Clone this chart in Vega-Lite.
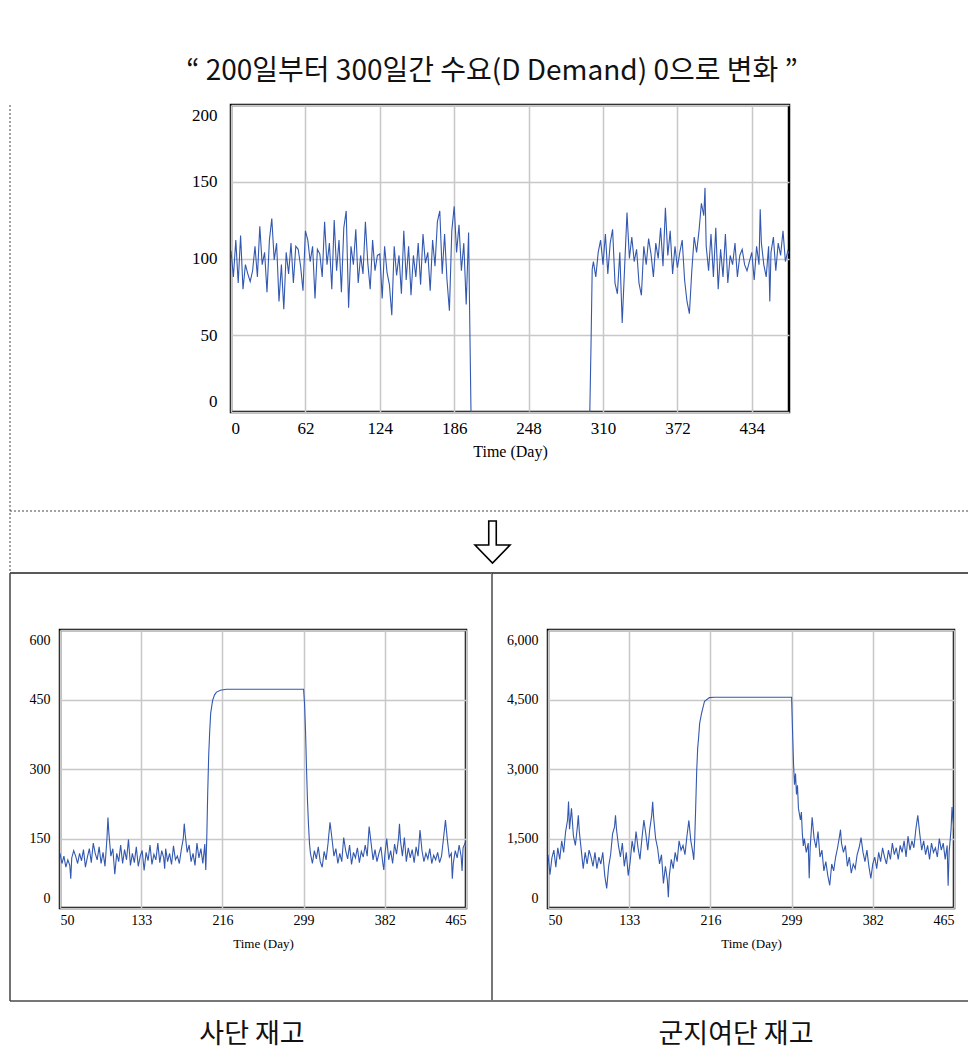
{
"$schema": "https://vega.github.io/schema/vega-lite/v6.json",
"background": "white",
"padding": {"left": 7, "top": 58, "right": 0, "bottom": 10},
"title": {"text": "“ 200일부터 300일간 수요(D Demand) 0으로 변화 ”", "font": "Noto Sans CJK KR", "fontSize": 28, "fontWeight": "normal", "color": "#111111", "offset": 17, "dx": 2, "anchor": "middle"},
"columns": 1,
"align": "none",
"spacing": -5,
"config": {
  "view": {"stroke": "#000000", "strokeWidth": 2.5},
  "axis": {"grid": true, "gridColor": "#c8c8c8", "gridWidth": 1.5, "domain": false, "ticks": false, "labelFont": "Liberation Serif", "titleFont": "Liberation Serif", "labelColor": "#000000", "titleColor": "#000000", "titleFontWeight": "normal"},
  "line": {"color": "#3358b0", "strokeWidth": 1.1}
},
"datasets": {
"dem": [
{"d":0,"v":105},{"d":2,"v":88},{"d":4,"v":112},{"d":6,"v":84},{"d":8,"v":115},{"d":10,"v":80},{"d":12,"v":96},{"d":14,"v":90},{"d":16,"v":85},{"d":18,"v":92},
{"d":20,"v":108},{"d":22,"v":88},{"d":24,"v":121},{"d":26,"v":96},{"d":28,"v":104},{"d":30,"v":78},{"d":32,"v":112},{"d":34,"v":126},{"d":36,"v":99},{"d":38,"v":110},
{"d":40,"v":72},{"d":42,"v":96},{"d":44,"v":67},{"d":46,"v":104},{"d":48,"v":90},{"d":50,"v":110},{"d":52,"v":84},{"d":54,"v":108},{"d":56,"v":106},{"d":58,"v":95},
{"d":60,"v":79},{"d":62,"v":118},{"d":64,"v":112},{"d":66,"v":98},{"d":68,"v":108},{"d":70,"v":74},{"d":72,"v":106},{"d":74,"v":103},{"d":76,"v":88},{"d":78,"v":124},
{"d":80,"v":96},{"d":82,"v":110},{"d":84,"v":80},{"d":86,"v":125},{"d":88,"v":92},{"d":90,"v":112},{"d":92,"v":78},{"d":94,"v":120},{"d":96,"v":131},{"d":98,"v":68},
{"d":100,"v":108},{"d":102,"v":96},{"d":104,"v":119},{"d":106,"v":84},{"d":108,"v":102},{"d":110,"v":90},{"d":112,"v":124},{"d":114,"v":97},{"d":116,"v":80},{"d":118,"v":112},
{"d":120,"v":92},{"d":122,"v":102},{"d":124,"v":103},{"d":126,"v":74},{"d":128,"v":108},{"d":130,"v":91},{"d":132,"v":83},{"d":134,"v":63},{"d":136,"v":108},{"d":138,"v":89},
{"d":140,"v":102},{"d":142,"v":77},{"d":144,"v":118},{"d":146,"v":86},{"d":148,"v":108},{"d":150,"v":76},{"d":152,"v":102},{"d":154,"v":88},{"d":156,"v":110},{"d":158,"v":83},
{"d":160,"v":116},{"d":162,"v":97},{"d":164,"v":104},{"d":166,"v":79},{"d":168,"v":112},{"d":170,"v":95},{"d":172,"v":124},{"d":174,"v":131},{"d":176,"v":90},{"d":178,"v":116},
{"d":180,"v":86},{"d":182,"v":66},{"d":184,"v":118},{"d":186,"v":134},{"d":188,"v":104},{"d":190,"v":122},{"d":192,"v":92},{"d":194,"v":110},{"d":196,"v":70},{"d":198,"v":117},
{"d":199,"v":57},{"d":200,"v":0},{"d":299,"v":0},{"d":300,"v":43},{"d":301,"v":93},
{"d":302,"v":98},{"d":304,"v":88},{"d":306,"v":104},{"d":308,"v":112},{"d":310,"v":96},{"d":312,"v":116},{"d":314,"v":90},{"d":316,"v":110},{"d":318,"v":119},{"d":320,"v":84},
{"d":322,"v":77},{"d":324,"v":104},{"d":326,"v":58},{"d":328,"v":94},{"d":330,"v":130},{"d":332,"v":100},{"d":334,"v":114},{"d":336,"v":98},{"d":338,"v":106},{"d":340,"v":84},
{"d":342,"v":76},{"d":344,"v":108},{"d":346,"v":96},{"d":348,"v":113},{"d":350,"v":103},{"d":352,"v":88},{"d":354,"v":110},{"d":356,"v":100},{"d":358,"v":120},{"d":360,"v":95},
{"d":362,"v":133},{"d":364,"v":102},{"d":366,"v":118},{"d":368,"v":90},{"d":370,"v":108},{"d":372,"v":94},{"d":374,"v":104},{"d":376,"v":112},{"d":378,"v":86},{"d":380,"v":72},
{"d":382,"v":64},{"d":384,"v":92},{"d":386,"v":114},{"d":388,"v":104},{"d":390,"v":118},{"d":392,"v":136},{"d":394,"v":128},{"d":395,"v":146},{"d":396,"v":108},{"d":398,"v":92},
{"d":400,"v":116},{"d":402,"v":88},{"d":404,"v":120},{"d":406,"v":80},{"d":408,"v":106},{"d":410,"v":88},{"d":412,"v":116},{"d":414,"v":84},{"d":416,"v":102},{"d":418,"v":96},
{"d":420,"v":110},{"d":422,"v":88},{"d":424,"v":102},{"d":426,"v":106},{"d":428,"v":96},{"d":430,"v":92},{"d":432,"v":98},{"d":434,"v":104},{"d":436,"v":86},{"d":438,"v":108},
{"d":440,"v":96},{"d":441,"v":132},{"d":442,"v":110},{"d":444,"v":96},{"d":446,"v":88},{"d":448,"v":108},{"d":449,"v":72},{"d":450,"v":104},{"d":452,"v":114},{"d":454,"v":92},
{"d":456,"v":110},{"d":458,"v":102},{"d":460,"v":118},{"d":462,"v":98},{"d":464,"v":105},{"d":465,"v":103}
],
"div": [
{"d":50,"v":118},{"d":52,"v":96},{"d":54,"v":112},{"d":56,"v":88},{"d":58,"v":104},{"d":60,"v":92},{"d":61,"v":63},{"d":62,"v":108},{"d":64,"v":124},{"d":66,"v":112},
{"d":68,"v":96},{"d":70,"v":118},{"d":72,"v":102},{"d":74,"v":126},{"d":76,"v":88},{"d":78,"v":110},{"d":80,"v":128},{"d":82,"v":98},{"d":84,"v":140},{"d":86,"v":118},
{"d":88,"v":104},{"d":90,"v":132},{"d":92,"v":96},{"d":94,"v":120},{"d":96,"v":90},{"d":98,"v":150},{"d":99,"v":195},{"d":100,"v":160},{"d":102,"v":112},{"d":104,"v":128},
{"d":106,"v":73},{"d":108,"v":118},{"d":110,"v":100},{"d":112,"v":136},{"d":114,"v":96},{"d":116,"v":126},{"d":118,"v":104},{"d":120,"v":148},{"d":122,"v":92},{"d":124,"v":118},
{"d":126,"v":98},{"d":128,"v":132},{"d":130,"v":90},{"d":132,"v":112},{"d":134,"v":124},{"d":136,"v":81},{"d":138,"v":120},{"d":140,"v":102},{"d":142,"v":136},{"d":144,"v":94},
{"d":146,"v":116},{"d":148,"v":104},{"d":150,"v":140},{"d":152,"v":98},{"d":154,"v":124},{"d":156,"v":108},{"d":157,"v":85},{"d":158,"v":128},{"d":160,"v":100},{"d":162,"v":118},
{"d":164,"v":94},{"d":166,"v":134},{"d":168,"v":104},{"d":170,"v":112},{"d":172,"v":96},{"d":174,"v":126},{"d":176,"v":150},{"d":177,"v":182},{"d":178,"v":158},{"d":180,"v":120},
{"d":182,"v":136},{"d":184,"v":100},{"d":186,"v":118},{"d":188,"v":92},{"d":190,"v":140},{"d":192,"v":108},{"d":194,"v":128},{"d":196,"v":96},{"d":198,"v":138},{"d":199,"v":82},
{"d":200,"v":148},{"d":201,"v":250},{"d":202,"v":330},{"d":203,"v":380},{"d":204,"v":420},{"d":206,"v":448},{"d":208,"v":460},{"d":210,"v":466},{"d":214,"v":470},{"d":220,"v":472},
{"d":299,"v":472},{"d":300,"v":440},{"d":301,"v":380},{"d":302,"v":300},{"d":303,"v":230},{"d":304,"v":180},{"d":305,"v":140},{"d":306,"v":118},
{"d":308,"v":96},{"d":310,"v":124},{"d":312,"v":106},{"d":314,"v":132},{"d":316,"v":100},{"d":318,"v":88},{"d":320,"v":122},{"d":322,"v":104},{"d":324,"v":140},{"d":326,"v":185},
{"d":328,"v":150},{"d":330,"v":112},{"d":332,"v":128},{"d":334,"v":96},{"d":336,"v":118},{"d":338,"v":100},{"d":340,"v":152},{"d":342,"v":124},{"d":344,"v":106},{"d":346,"v":136},
{"d":348,"v":94},{"d":350,"v":120},{"d":352,"v":108},{"d":354,"v":130},{"d":356,"v":98},{"d":358,"v":122},{"d":360,"v":110},{"d":362,"v":136},{"d":364,"v":112},{"d":366,"v":176},
{"d":368,"v":140},{"d":370,"v":104},{"d":372,"v":126},{"d":374,"v":100},{"d":376,"v":118},{"d":378,"v":132},{"d":380,"v":96},{"d":381,"v":82},{"d":382,"v":114},{"d":384,"v":150},
{"d":386,"v":104},{"d":388,"v":124},{"d":390,"v":96},{"d":392,"v":138},{"d":394,"v":116},{"d":396,"v":150},{"d":397,"v":182},{"d":398,"v":146},{"d":400,"v":112},{"d":402,"v":152},
{"d":404,"v":100},{"d":406,"v":130},{"d":408,"v":108},{"d":410,"v":126},{"d":412,"v":98},{"d":414,"v":132},{"d":416,"v":112},{"d":418,"v":168},{"d":420,"v":124},{"d":422,"v":100},
{"d":424,"v":118},{"d":426,"v":106},{"d":428,"v":128},{"d":430,"v":96},{"d":432,"v":114},{"d":434,"v":104},{"d":436,"v":120},{"d":438,"v":98},{"d":440,"v":112},{"d":442,"v":150},
{"d":444,"v":190},{"d":446,"v":146},{"d":448,"v":110},{"d":450,"v":118},{"d":451,"v":63},{"d":452,"v":96},{"d":454,"v":124},{"d":456,"v":108},{"d":458,"v":136},{"d":460,"v":112},
{"d":461,"v":80},{"d":462,"v":130},{"d":464,"v":140},{"d":465,"v":132}
],
"bde": [
{"d":50,"v":1150},{"d":52,"v":720},{"d":54,"v":1080},{"d":56,"v":1250},{"d":58,"v":880},{"d":60,"v":1300},{"d":62,"v":1050},{"d":64,"v":1450},{"d":66,"v":1200},{"d":68,"v":1650},
{"d":70,"v":1900},{"d":71,"v":2300},{"d":72,"v":1700},{"d":74,"v":2150},{"d":76,"v":1550},{"d":78,"v":1350},{"d":80,"v":1750},{"d":81,"v":2000},{"d":82,"v":1650},{"d":84,"v":1250},
{"d":86,"v":850},{"d":88,"v":1200},{"d":90,"v":950},{"d":92,"v":1250},{"d":94,"v":1100},{"d":96,"v":900},{"d":98,"v":1200},{"d":100,"v":850},{"d":102,"v":1100},{"d":104,"v":950},
{"d":106,"v":1200},{"d":108,"v":700},{"d":110,"v":420},{"d":112,"v":900},{"d":114,"v":1150},{"d":116,"v":1600},{"d":118,"v":1750},{"d":119,"v":2000},{"d":120,"v":1700},{"d":122,"v":1350},
{"d":124,"v":1100},{"d":126,"v":1400},{"d":128,"v":900},{"d":130,"v":1200},{"d":132,"v":700},{"d":134,"v":1000},{"d":136,"v":1450},{"d":138,"v":1200},{"d":140,"v":1650},{"d":142,"v":1300},
{"d":144,"v":1050},{"d":146,"v":1500},{"d":148,"v":1900},{"d":150,"v":1600},{"d":152,"v":1250},{"d":154,"v":1700},{"d":156,"v":2000},{"d":157,"v":2290},{"d":158,"v":1950},{"d":160,"v":1500},
{"d":162,"v":1300},{"d":164,"v":950},{"d":166,"v":1150},{"d":168,"v":530},{"d":170,"v":900},{"d":172,"v":600},{"d":173,"v":235},{"d":174,"v":700},{"d":176,"v":1050},{"d":178,"v":850},
{"d":180,"v":1200},{"d":182,"v":1000},{"d":184,"v":1450},{"d":186,"v":1250},{"d":188,"v":1350},{"d":190,"v":1150},{"d":192,"v":1550},{"d":194,"v":1890},{"d":196,"v":1450},{"d":198,"v":1200},
{"d":199,"v":1040},{"d":200,"v":1500},{"d":201,"v":2200},{"d":202,"v":2960},{"d":203,"v":3450},{"d":204,"v":3690},{"d":205,"v":3985},{"d":207,"v":4205},{"d":210,"v":4463},{"d":215,"v":4540},
{"d":220,"v":4550},{"d":299,"v":4550},{"d":300,"v":3800},{"d":301,"v":3100},{"d":302,"v":2660},{"d":303,"v":2900},{"d":304,"v":2450},{"d":305,"v":2650},{"d":306,"v":2150},{"d":308,"v":1900},
{"d":309,"v":2070},{"d":310,"v":1600},{"d":311,"v":1340},{"d":312,"v":1500},{"d":314,"v":1200},{"d":316,"v":1400},{"d":317,"v":640},{"d":318,"v":1300},{"d":320,"v":1960},{"d":322,"v":1500},
{"d":324,"v":1300},{"d":326,"v":1650},{"d":328,"v":1100},{"d":330,"v":1250},{"d":332,"v":800},{"d":334,"v":1000},{"d":336,"v":700},{"d":338,"v":490},{"d":340,"v":950},{"d":342,"v":800},
{"d":344,"v":1100},{"d":346,"v":1300},{"d":348,"v":1550},{"d":349,"v":1690},{"d":350,"v":1400},{"d":352,"v":1200},{"d":354,"v":1350},{"d":356,"v":900},{"d":358,"v":1100},{"d":360,"v":750},
{"d":362,"v":950},{"d":364,"v":850},{"d":366,"v":1150},{"d":368,"v":1300},{"d":370,"v":1520},{"d":372,"v":1200},{"d":374,"v":1000},{"d":376,"v":1250},{"d":378,"v":900},{"d":380,"v":640},
{"d":382,"v":950},{"d":384,"v":1100},{"d":386,"v":850},{"d":388,"v":1200},{"d":390,"v":1000},{"d":392,"v":1300},{"d":394,"v":1100},{"d":396,"v":950},{"d":398,"v":1250},{"d":400,"v":1050},
{"d":402,"v":1400},{"d":404,"v":1150},{"d":406,"v":1300},{"d":408,"v":1050},{"d":410,"v":1350},{"d":412,"v":1200},{"d":414,"v":1450},{"d":416,"v":1100},{"d":418,"v":1550},{"d":420,"v":1250},
{"d":422,"v":1450},{"d":424,"v":1300},{"d":426,"v":1700},{"d":428,"v":2000},{"d":430,"v":1600},{"d":432,"v":1250},{"d":434,"v":1450},{"d":436,"v":1150},{"d":438,"v":1350},{"d":440,"v":1050},
{"d":442,"v":1400},{"d":444,"v":1200},{"d":446,"v":1300},{"d":448,"v":1100},{"d":450,"v":1500},{"d":452,"v":1250},{"d":454,"v":1400},{"d":456,"v":1050},{"d":458,"v":1350},{"d":459,"v":480},
{"d":460,"v":1200},{"d":462,"v":1700},{"d":463,"v":2180},{"d":464,"v":1900},{"d":465,"v":1700}
]
},
"concat": [
{
  "bounds": "flush",
  "spacing": 0,
  "hconcat": [
    {
      "width": 171, "height": 10,
      "view": {"stroke": null},
      "data": {"values": []},
      "mark": {"type": "point", "opacity": 0}
    },
    {
      "width": 558, "height": 307,
      "layer": [
        {
          "data": {"name": "dem"},
          "mark": {"type": "line", "clip": true},
          "encoding": {
            "x": {"field": "d", "type": "quantitative", "scale": {"domain": [0, 465], "nice": false, "zero": false},
                  "axis": {"values": [0,31,62,93,124,155,186,217,248,279,310,341,372,403,434,465], "labelExpr": "datum.value % 62 === 0 ? datum.label : ''", "title": "Time (Day)", "labelFontSize": 17, "titleFontSize": 16, "labelPadding": 8, "titlePadding": 7}},
            "y": {"field": "v", "type": "quantitative", "scale": {"domain": [0, 200], "nice": false},
                  "axis": {"values": [0,50,100,150,200], "labelFlush": true, "labelFlushOffset": -2, "labelFontSize": 17, "labelPadding": 14, "title": null}}
          }
        },
        {
          "data": {"values": [{}]},
          "mark": {"type": "rule", "color": "#444444", "strokeWidth": 1, "strokeDash": [2, 2]},
          "encoding": {
            "x": {"datum": -184.17, "type": "quantitative", "scale": {"domain": [0, 465], "nice": false, "zero": false}},
            "y": {"datum": 200, "type": "quantitative", "scale": {"domain": [0, 200], "nice": false}},
            "y2": {"datum": -104.89}
          }
        },
        {
          "data": {"values": [{}]},
          "mark": {"type": "rule", "color": "#444444", "strokeWidth": 1, "strokeDash": [2, 2]},
          "encoding": {
            "x": {"datum": -184.17, "type": "quantitative", "scale": {"domain": [0, 465], "nice": false, "zero": false}},
            "x2": {"datum": 615.83},
            "y": {"datum": -64.5, "type": "quantitative", "scale": {"domain": [0, 200], "nice": false}}
          }
        },
        {
          "data": {"values": [{}]},
          "mark": {"type": "point", "shape": "M -0.179 -1 L 0.179 -1 L 0.179 0.143 L 0.833 0.143 L 0 1 L -0.833 0.143 L -0.179 0.143 Z", "size": 1764, "filled": false, "stroke": "#000000", "strokeWidth": 1.6, "opacity": 1, "fill": "#ffffff", "fillOpacity": 1},
          "encoding": {
            "x": {"datum": 217.92, "type": "quantitative", "scale": {"domain": [0, 465], "nice": false, "zero": false}},
            "y": {"datum": -84.69, "type": "quantitative", "scale": {"domain": [0, 200], "nice": false}}
          }
        }
      ]
    }
  ]
},
{
  "bounds": "flush",
  "spacing": 82,
  "hconcat": [
    {
      "width": 406, "height": 278,
      "title": {"text": "사단 재고", "orient": "bottom", "frame": "group", "anchor": "middle", "offset": 20, "dx": -11, "font": "Noto Sans CJK KR", "fontSize": 27, "fontWeight": "normal", "color": "#111111"},
      "layer": [
        {
          "data": {"name": "div"},
          "mark": {"type": "line", "clip": true},
          "encoding": {
            "x": {"field": "d", "type": "quantitative", "scale": {"domain": [50, 465], "nice": false, "zero": false},
                  "axis": {"values": [50,133,216,299,382,465], "title": "Time (Day)", "labelFontSize": 14, "titleFontSize": 13, "labelPadding": 5, "titlePadding": 10}},
            "y": {"field": "v", "type": "quantitative", "scale": {"domain": [0, 600], "nice": false},
                  "axis": {"values": [0,150,300,450,600], "labelFlush": true, "labelFlushOffset": -3, "labelFontSize": 14, "labelPadding": 10, "title": null}}
          }
        },
        {
          "data": {"values": [{}]},
          "mark": {"type": "rule", "color": "#222222", "strokeWidth": 1.5},
          "encoding": {
            "x": {"datum": -1.108, "type": "quantitative", "scale": {"domain": [50, 465], "nice": false, "zero": false}},
            "x2": {"datum": 491.58},
            "y": {"datum": 723.02, "type": "quantitative", "scale": {"domain": [0, 600], "nice": false}}
          }
        },
        {
          "data": {"values": [{}]},
          "mark": {"type": "rule", "color": "#777777", "strokeWidth": 2},
          "encoding": {
            "x": {"datum": -1.108, "type": "quantitative", "scale": {"domain": [50, 465], "nice": false, "zero": false}},
            "x2": {"datum": 491.58},
            "y": {"datum": -200.72, "type": "quantitative", "scale": {"domain": [0, 600], "nice": false}}
          }
        },
        {
          "data": {"values": [{}]},
          "mark": {"type": "rule", "color": "#444444", "strokeWidth": 1.5},
          "encoding": {
            "x": {"datum": -1.108, "type": "quantitative", "scale": {"domain": [50, 465], "nice": false, "zero": false}},
            "y": {"datum": 723.02, "type": "quantitative", "scale": {"domain": [0, 600], "nice": false}},
            "y2": {"datum": -200.72}
          }
        }
      ]
    },
    {
      "width": 406, "height": 278,
      "title": {"text": "군지여단 재고", "orient": "bottom", "frame": "group", "anchor": "middle", "offset": 20, "dx": -15, "font": "Noto Sans CJK KR", "fontSize": 27, "fontWeight": "normal", "color": "#111111"},
      "layer": [
        {
          "data": {"name": "bde"},
          "mark": {"type": "line", "clip": true},
          "encoding": {
            "x": {"field": "d", "type": "quantitative", "scale": {"domain": [50, 465], "nice": false, "zero": false},
                  "axis": {"values": [50,133,216,299,382,465], "title": "Time (Day)", "labelFontSize": 14, "titleFontSize": 13, "labelPadding": 5, "titlePadding": 10}},
            "y": {"field": "v", "type": "quantitative", "scale": {"domain": [0, 6000], "nice": false},
                  "axis": {"values": [0,1500,3000,4500,6000], "labelExpr": "format(datum.value, ',')", "labelFlush": true, "labelFlushOffset": -3, "labelFontSize": 14, "labelPadding": 10, "title": null}}
          }
        },
        {
          "data": {"values": [{}]},
          "mark": {"type": "rule", "color": "#777777", "strokeWidth": 2},
          "encoding": {
            "x": {"datum": -7.24, "type": "quantitative", "scale": {"domain": [50, 465], "nice": false, "zero": false}},
            "y": {"datum": 7230.2, "type": "quantitative", "scale": {"domain": [0, 6000], "nice": false}},
            "y2": {"datum": -2007.2}
          }
        },
        {
          "data": {"values": [{}]},
          "mark": {"type": "rule", "color": "#222222", "strokeWidth": 1.5},
          "encoding": {
            "x": {"datum": -7.24, "type": "quantitative", "scale": {"domain": [50, 465], "nice": false, "zero": false}},
            "x2": {"datum": 481.35},
            "y": {"datum": 7230.2, "type": "quantitative", "scale": {"domain": [0, 6000], "nice": false}}
          }
        },
        {
          "data": {"values": [{}]},
          "mark": {"type": "rule", "color": "#777777", "strokeWidth": 2},
          "encoding": {
            "x": {"datum": -7.24, "type": "quantitative", "scale": {"domain": [50, 465], "nice": false, "zero": false}},
            "x2": {"datum": 481.35},
            "y": {"datum": -2007.2, "type": "quantitative", "scale": {"domain": [0, 6000], "nice": false}}
          }
        }
      ]
    }
  ]
}
]
}
